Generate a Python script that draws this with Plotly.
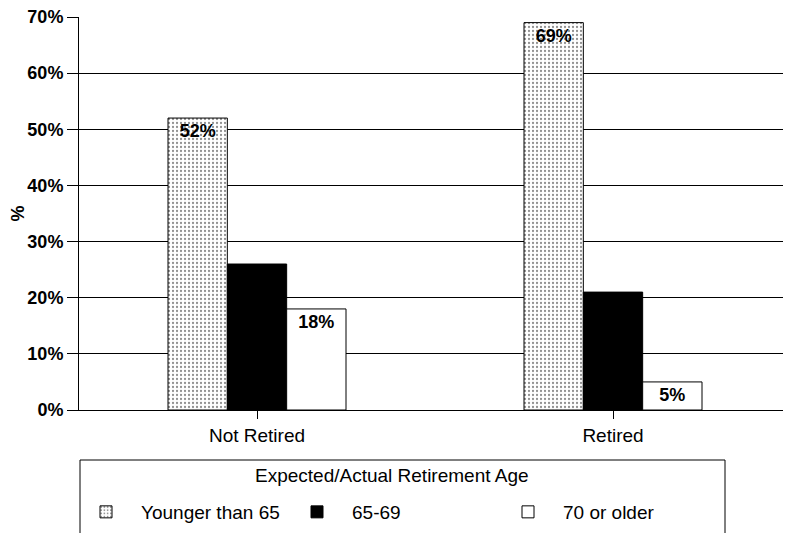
import plotly.graph_objects as go

categories = ["Not Retired", "Retired"]
series_names = ["Younger than 65", "65-69", "70 or older"]
younger_than_65 = [52, 69]
age_65_69 = [26, 21]
age_70_older = [18, 5]
y_ticks = [0, 10, 20, 30, 40, 50, 60, 70]
y_tick_labels = [f"{v}%" for v in y_ticks]
legend_title = "Expected/Actual Retirement Age"

FONT = "Arial, 'Liberation Sans', sans-serif"

W, H = 783, 525
L, R, T, B = 71, 0, 9, 123
PW = W - L - R
PH = H - T - B


def px_x(x):
    return (x - 8 - L) / PW


def px_y(y):
    return (H - B - (y - 8)) / PH


fig = go.Figure()
fig.add_trace(go.Bar(
    name=series_names[0], x=categories, y=younger_than_65,
    text=[f"{v}%" for v in younger_than_65],
    marker=dict(color="white", line=dict(color="black", width=1),
                pattern=dict(shape=".", fgcolor="#222", bgcolor="white", size=4, solidity=0.25)),
))
fig.add_trace(go.Bar(
    name=series_names[1], x=categories, y=age_65_69,
    marker=dict(color="black", line=dict(color="black", width=1)),
))
fig.add_trace(go.Bar(
    name=series_names[2], x=categories, y=age_70_older,
    text=[f"{v}%" for v in age_70_older],
    marker=dict(color="white", line=dict(color="black", width=1)),
))
fig.update_traces(textposition="inside", insidetextanchor="end", textangle=0,
                  constraintext="none",
                  textfont=dict(family=FONT, size=18, color="black", weight="bold"),
                  cliponaxis=False)

fig.update_layout(
    width=W, height=H,
    margin=dict(l=L, r=R, t=T, b=B, autoexpand=False),
    paper_bgcolor="white", plot_bgcolor="white",
    barmode="group", bargap=0.5, bargroupgap=0,
    font=dict(family=FONT, color="black"),
    showlegend=True,
    legend=dict(orientation="h", x=px_x(71), xanchor="left", y=px_y(512), yanchor="middle",
                bgcolor="rgba(0,0,0,0)", borderwidth=0, itemwidth=60, entrywidth=136,
                font=dict(family=FONT, size=19, color="black"), traceorder="normal"),
    xaxis=dict(showline=True, linecolor="black", linewidth=1, ticks="outside", ticklen=8,
               tickcolor="black", tickfont=dict(family=FONT, size=19, color="black"),
               showgrid=False),
    yaxis=dict(range=[0, 70], tickvals=y_ticks, ticktext=y_tick_labels,
               showline=True, linecolor="black", linewidth=1,
               ticks="outside", ticklen=11, tickcolor="black", ticklabeloverflow="allow",
               showgrid=True, gridcolor="black", gridwidth=1, zeroline=False,
               tickfont=dict(family=FONT, size=18, color="black", weight="bold"),
               title=dict(text="%", standoff=8,
                          font=dict(family=FONT, size=18, color="black", weight="bold"))),
    shapes=[dict(type="rect", xref="paper", yref="paper",
                 x0=px_x(80), x1=px_x(725),
                 y0=px_y(460), y1=px_y(600),
                 line=dict(color="black", width=1), fillcolor="rgba(0,0,0,0)")],
    annotations=[dict(text=legend_title, xref="paper", yref="paper",
                      x=px_x(392), y=px_y(475), xanchor="center", yanchor="middle",
                      showarrow=False, font=dict(family=FONT, size=19, color="black"))],
)

fig.write_html("out.html")
